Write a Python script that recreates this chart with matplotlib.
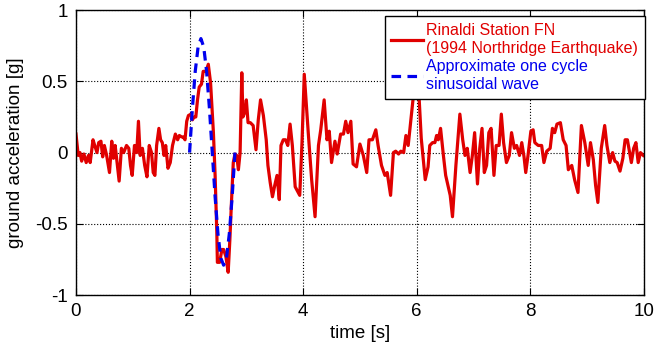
import numpy as np
import matplotlib
matplotlib.use('Agg')
from matplotlib import pyplot as plt

plt.rcParams['font.family'] = ['Liberation Sans', 'DejaVu Sans']
plt.rcParams['axes.unicode_minus'] = False

# Rinaldi FN record
t_rec = [0.0, 0.04, 0.07, 0.1, 0.14, 0.18, 0.22, 0.25, 0.3, 0.33, 0.37, 0.4, 0.44, 0.47, 0.5,
         0.54, 0.59, 0.63, 0.66, 0.69, 0.73, 0.76, 0.8, 0.84, 0.89, 0.93, 0.96, 0.99, 1.03, 1.07,
         1.1, 1.13, 1.17, 1.21, 1.25, 1.29, 1.33, 1.36, 1.39, 1.42, 1.46, 1.49, 1.52, 1.55, 1.58,
         1.62, 1.66, 1.7, 1.75, 1.79, 1.82, 1.86, 1.89, 1.92, 1.95, 1.98, 2.025, 2.05, 2.08, 2.11,
         2.14, 2.17, 2.21, 2.24, 2.29, 2.33, 2.37, 2.42, 2.45, 2.48, 2.49, 2.53, 2.57, 2.6, 2.64,
         2.68, 2.71, 2.74, 2.77, 2.8, 2.83, 2.86, 2.89, 2.92, 2.94, 2.97, 3.0, 3.03, 3.07, 3.12,
         3.17, 3.21, 3.25, 3.3, 3.35, 3.38, 3.42, 3.46, 3.5, 3.54, 3.58, 3.61, 3.65, 3.69, 3.73,
         3.77, 3.81, 3.86, 3.9, 3.94, 3.98, 4.02, 4.05, 4.09, 4.15, 4.21, 4.27, 4.31, 4.37, 4.42,
         4.46, 4.5, 4.56, 4.6, 4.66, 4.71, 4.75, 4.79, 4.84, 4.88, 4.94, 5.0, 5.06, 5.12, 5.16,
         5.22, 5.28, 5.32, 5.38, 5.44, 5.48, 5.54, 5.59, 5.63, 5.68, 5.72, 5.77, 5.81, 5.85, 5.91,
         5.95, 6.0, 6.04, 6.08, 6.15, 6.2, 6.23, 6.28, 6.32, 6.35, 6.38, 6.42, 6.47, 6.51, 6.59,
         6.63, 6.69, 6.76, 6.81, 6.85, 6.89, 6.94, 6.98, 7.02, 7.07, 7.11, 7.15, 7.19, 7.23, 7.27,
         7.31, 7.36, 7.4, 7.45, 7.49, 7.53, 7.58, 7.63, 7.67, 7.72, 7.76, 7.81, 7.85, 7.89, 7.92,
         7.96, 8.01, 8.05, 8.08, 8.14, 8.2, 8.24, 8.29, 8.35, 8.39, 8.43, 8.47, 8.53, 8.58, 8.63,
         8.67, 8.73, 8.78, 8.84, 8.9, 8.96, 9.02, 9.06, 9.11, 9.15, 9.19, 9.25, 9.31, 9.35, 9.4,
         9.45, 9.49, 9.53, 9.58, 9.63, 9.67, 9.71, 9.75, 9.78, 9.82, 9.86, 9.9, 9.94, 9.99]
a_rec = [0.13, -0.02, 0.0, -0.06, -0.01, -0.07, -0.02, -0.07, 0.09, 0.05, 0.0, 0.07, 0.08, -0.03, 0.05,
         -0.02, -0.14, 0.08, -0.04, 0.05, -0.09, -0.2, 0.03, 0.0, 0.05, 0.03, -0.09, -0.16, 0.05, 0.0,
         0.22, -0.02, 0.03, -0.09, -0.17, 0.05, 0.0, -0.14, -0.16, 0.05, 0.17, 0.09, 0.07, -0.02, 0.05,
         -0.11, -0.07, 0.05, 0.13, 0.09, 0.12, 0.11, 0.11, 0.09, 0.22, 0.26, 0.27, 0.23, 0.25, 0.25,
         0.37, 0.46, 0.48, 0.57, 0.57, 0.62, 0.49, 0.14, -0.16, -0.56, -0.77, -0.77, -0.68, -0.68, -0.73,
         -0.84, -0.61, -0.33, -0.07, -0.01, -0.02, -0.12, 0.0, 0.56, 0.25, 0.28, 0.37, 0.21, 0.21, 0.19,
         0.02, 0.23, 0.37, 0.26, 0.09, -0.09, -0.21, -0.31, -0.23, -0.16, -0.33, 0.05, 0.09, 0.09, 0.05,
         0.2, 0.05, -0.24, -0.27, -0.3, 0.07, 0.55, 0.37, 0.14, -0.19, -0.45, 0.05, 0.16, 0.37, 0.09,
         0.15, -0.07, 0.08, -0.01, 0.13, 0.13, 0.22, 0.14, 0.22, -0.08, -0.1, 0.06, -0.02, -0.14, 0.09,
         0.09, 0.16, 0.05, -0.09, -0.16, -0.14, -0.3, 0.0, 0.01, -0.01, 0.01, 0.0, 0.12, 0.05, 0.28,
         0.44, 0.62, 0.4, 0.1, -0.19, -0.1, 0.05, 0.07, 0.07, 0.12, 0.09, 0.17, -0.02, -0.16, -0.3,
         -0.45, -0.09, 0.27, 0.09, -0.02, 0.03, -0.14, -0.02, 0.14, -0.22, 0.03, 0.17, -0.14, -0.09, 0.14,
         0.17, -0.16, 0.05, 0.05, 0.27, 0.07, -0.07, -0.02, 0.14, 0.03, 0.05, -0.02, 0.07, -0.03, -0.14,
         -0.02, 0.15, 0.16, 0.07, 0.05, 0.05, -0.07, 0.01, 0.03, 0.17, 0.14, 0.2, 0.21, 0.09, 0.05,
         -0.12, -0.09, -0.19, -0.28, 0.19, 0.07, -0.09, 0.07, -0.05, -0.23, -0.35, 0.03, 0.19, 0.05, -0.07,
         0.0, -0.06, -0.07, -0.13, -0.04, 0.09, 0.09, 0.0, -0.07, 0.03, 0.07, -0.07, 0.0, -0.02]

# approximate one-cycle pulse
t_sin = [2.0, 2.05, 2.1, 2.15, 2.2, 2.25, 2.3, 2.35, 2.4, 2.45, 2.5, 2.55, 2.6, 2.65, 2.7, 2.75, 2.8]
a_sin = [0.0, 0.31, 0.57, 0.74, 0.8, 0.74, 0.57, 0.31, 0.0, -0.31, -0.57, -0.74, -0.79, -0.74, -0.57, -0.31, 0.0]

xticks = [0, 2, 4, 6, 8, 10]
yticks = [-1, -0.5, 0, 0.5, 1]
ytick_labels = ['-1', '-0.5', '0', '0.5', '1']

fig = plt.figure(figsize=(6.55, 3.48), dpi=100)
ax = fig.add_axes([0.116, 0.152, 0.867, 0.819])

ax.plot(t_rec, a_rec, color='#e00000', lw=2.3,
        label='Rinaldi Station FN\n(1994 Northridge Earthquake)')
ax.plot(t_sin, a_sin, color='#0000ee', lw=2.3, ls=(0, (3, 2)),
        label='Approximate one cycle\nsinusoidal wave')

ax.set_xlim(0, 10)
ax.set_ylim(-1, 1)
ax.set_xticks(xticks)
ax.set_yticks(yticks)
ax.set_yticklabels(ytick_labels)
ax.tick_params(direction='in', top=True, right=True, length=5, labelsize=13.5, pad=6)
ax.grid(True, color='black', ls=':', lw=0.8)
for s in ax.spines.values():
    s.set_linewidth(1.0)

ax.set_xlabel('time [s]', fontsize=13.5, labelpad=3)
ax.set_ylabel('ground acceleration [g]', fontsize=13.5, labelpad=8)

leg = ax.legend(loc='upper right', bbox_to_anchor=(1.002, 0.978), fontsize=11.5,
                frameon=True, fancybox=False, framealpha=1, edgecolor='black',
                handlelength=2.0, handletextpad=0.2, borderpad=0.42, labelspacing=0.2,
                borderaxespad=0.0)
leg.get_frame().set_linewidth(1.0)
for txt, c in zip(leg.get_texts(), ['#e00000', '#0000ee']):
    txt.set_color(c)
    txt.set_linespacing(1.25)

fig.savefig('out.png', dpi=100)
